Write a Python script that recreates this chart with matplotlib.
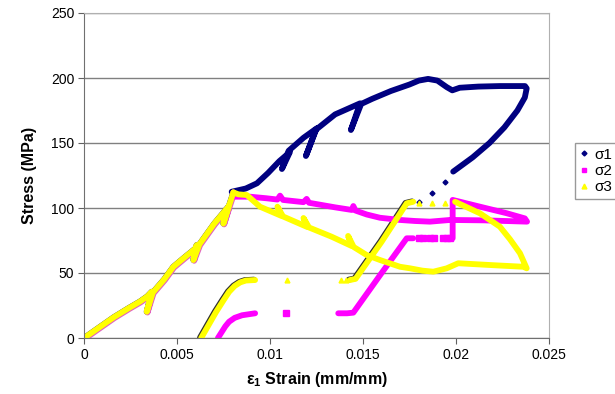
import numpy as np
import matplotlib
matplotlib.use('Agg')
import matplotlib.pyplot as plt
import matplotlib.transforms as mtransforms
from matplotlib.lines import Line2D

plt.rcParams['font.family'] = ['Liberation Sans', 'DejaVu Sans']
plt.rcParams['mathtext.fontset'] = 'custom'
plt.rcParams['mathtext.rm'] = 'Liberation Sans:bold'
plt.rcParams['mathtext.bf'] = 'Liberation Sans:bold'

# loading branch, common to all three stresses (with small unload loops)
load_strain = [0, 0.0008, 0.0016, 0.0024, 0.0030, 0.0034, 0.00364, 0.00337, 0.0037, 0.0043, 0.0048,
               0.0054, 0.0060, 0.00606, 0.00588, 0.0062, 0.0070, 0.00776, 0.00749, 0.0078, 0.00803]
load_stress = [0, 8, 16, 23, 28, 32, 35.6, 20.2, 35, 45, 54.8,
               62, 69, 71.5, 60, 72, 88, 101, 88, 102, 112]

# sigma 1 after the loading branch
s1_strain = [0.00794, 0.0087, 0.0093, 0.0099, 0.0105, 0.01107, 0.01064, 0.0110, 0.0118,
             0.01251, 0.01193, 0.01245, 0.0135, 0.01484, 0.01435, 0.0149, 0.0155, 0.0165,
             0.0175, 0.0180, 0.0185, 0.0190, 0.0195, 0.0198, 0.0202, 0.0212, 0.02236, 0.0230,
             0.02371, 0.0238, 0.0237, 0.0233, 0.0226, 0.0218, 0.0209, 0.01985]
s1_stress = [112.5, 115, 119, 127, 136, 143, 130, 144, 154,
             161.3, 140, 160, 172, 180.5, 160, 180, 184, 190,
             195, 198, 199.3, 198, 193, 190.5, 192.5, 193.4, 193.8, 193.8,
             193.8, 192, 185, 175, 162, 150, 139, 128]
s1_pts_strain = [0.01941, 0.01873, 0.01803]
s1_pts_stress = [120.2, 111.8, 104.8]

# sigma 2
s2_strain = [0.00803, 0.00812, 0.00892, 0.0098, 0.0104, 0.01054, 0.0107, 0.0118, 0.01197,
             0.0121, 0.0135, 0.0144, 0.01448, 0.0146, 0.0152, 0.01591, 0.01699, 0.0178, 0.0186, 0.01968,
             0.0215, 0.02382, 0.0237, 0.02272, 0.02129, 0.01982, 0.01982]
s2_stress = [112, 108.7, 108.7, 107.5, 106.5, 109.5, 106.2, 104.5, 107,
             104, 100.5, 98.5, 101.5, 98, 95, 92.5, 90.8, 90, 89.5, 90.8,
             90.5, 89.5, 92, 96, 101, 106.2, 76.7]
s2_low_strain = [0.0072, 0.0074, 0.0076, 0.0078, 0.0081, 0.0085, 0.0092]
s2_low_stress = [0, 4.5, 9, 12.5, 15.5, 17.5, 19]
s2_mid_strain = [0.01367, 0.01414, 0.01448, 0.0159, 0.01735, 0.0177]
s2_mid_stress = [19, 19, 19.5, 48, 76.7, 76.7]
s2_pts_strain = [0.01086, 0.0180, 0.0182, 0.0186, 0.0188, 0.0193, 0.0195, 0.0197]
s2_pts_stress = [19, 76.7, 76.7, 76.7, 76.7, 76.7, 76.7, 76.7]

# sigma 3
s3_strain = [0.00803, 0.0083, 0.00875, 0.00946, 0.0106, 0.0104, 0.0107, 0.0120, 0.0118,
             0.0121, 0.0133, 0.0144, 0.0142, 0.0145, 0.0152, 0.01591, 0.01699, 0.01753, 0.0182, 0.01878,
             0.0195, 0.02012, 0.0220, 0.02362, 0.0238, 0.02344, 0.0229, 0.02236, 0.02129, 0.01995]
s3_stress = [112, 110.5, 110, 101, 94, 101, 93.5, 85.4, 92.3,
             85, 78, 70.7, 78.5, 70, 63.8, 60, 54.8, 53.6, 51.8, 51,
             53.6, 57.5, 56, 54.8, 53.6, 65.2, 76, 85.6, 95.9, 104.8]
s3_low_strain = [0.0063, 0.0067, 0.0071, 0.0075, 0.0078, 0.0081, 0.0084, 0.0087, 0.0092]
s3_low_stress = [0, 10, 20, 29, 35.5, 40, 42.8, 44.2, 44.6]
s3_mid_strain = [0.0143, 0.0146, 0.0160, 0.01735, 0.0177]
s3_mid_stress = [44.6, 45.5, 74, 103.6, 104.8]
s3_pts_strain = [0.0109, 0.0138, 0.0141, 0.0180, 0.01871, 0.0194]
s3_pts_stress = [44.6, 44.6, 44.6, 104, 104, 104]

c1 = '#000080'
c2 = '#FF00FF'
c3 = '#FFFF00'

fig = plt.figure(figsize=(6.15, 3.94), dpi=100)
ax = fig.add_axes([84/615, 56/394, 465/615, 325/394])

lw = 4.2
kw = dict(solid_capstyle='round', solid_joinstyle='round')

# sigma 1 (drawn first, under the others)
ax.plot(load_strain, load_stress, color=c1, lw=lw, **kw)
ax.plot(s1_strain, s1_stress, color=c1, lw=lw, **kw)
ax.plot(s1_pts_strain, s1_pts_stress, 'D', color=c1, ms=2.5, ls='none')
# sigma 1 unload/reload runs just left of sigma 3
shift = mtransforms.offset_copy(ax.transData, fig=fig, x=-1.2, y=0.4, units='dots')
ax.plot(s3_low_strain, s3_low_stress, color='#303030', lw=lw, transform=shift, **kw)
ax.plot(s3_mid_strain, s3_mid_stress, color='#303030', lw=lw, transform=shift, **kw)

# sigma 2
shift2 = mtransforms.offset_copy(ax.transData, fig=fig, x=0.8, y=-0.8, units='dots')
ax.plot(load_strain, load_stress, color='#E060C0', lw=lw, transform=shift2, **kw)
ax.plot(s2_strain, s2_stress, color=c2, lw=lw, **kw)
ax.plot(s2_low_strain, s2_low_stress, color=c2, lw=lw, **kw)
ax.plot(s2_mid_strain, s2_mid_stress, color=c2, lw=lw, **kw)
ax.plot(s2_pts_strain, s2_pts_stress, 's', color=c2, ms=4, ls='none')

# sigma 3
ax.plot(load_strain, load_stress, color=c3, lw=lw, **kw)
ax.plot(s3_strain, s3_stress, color=c3, lw=lw, **kw)
ax.plot(s3_low_strain, s3_low_stress, color=c3, lw=lw, **kw)
ax.plot(s3_mid_strain, s3_mid_stress, color=c3, lw=lw, **kw)
ax.plot(s3_pts_strain, s3_pts_stress, '^', color=c3, ms=3.5, ls='none')

ax.set_xlim(0, 0.025)
ax.set_ylim(0, 250)
ax.set_xticks([0, 0.005, 0.01, 0.015, 0.02, 0.025])
ax.set_xticklabels(['0', '0.005', '0.01', '0.015', '0.02', '0.025'])
ax.set_yticks([0, 50, 100, 150, 200, 250])
ax.yaxis.grid(True, color='#808080', lw=1)
ax.set_axisbelow(True)
ax.tick_params(labelsize=10, direction='out', length=4, color='#606060', pad=3)
for s in ['left', 'bottom']:
    ax.spines[s].set_color('#707070')
for s in ['top', 'right']:
    ax.spines[s].set_color('#B0B0B0')

ax.set_xlabel(r'ε$_\mathbf{1}$ Strain (mm/mm)', fontsize=11.5, fontweight='bold', labelpad=6)
ax.set_ylabel('Stress (MPa)', fontsize=11.5, fontweight='bold', labelpad=10)

handles = [Line2D([], [], marker='D', color=c1, ls='none', ms=2.5),
           Line2D([], [], marker='s', color=c2, ls='none', ms=3.5),
           Line2D([], [], marker='^', color=c3, ls='none', ms=3.5)]
leg = fig.legend(handles, ['σ1', 'σ2', 'σ3'], loc='upper left',
                 bbox_to_anchor=(575/615, 1 - 143/394), fontsize=11,
                 frameon=True, fancybox=False, edgecolor='#808080',
                 handlelength=0.6, handletextpad=0.4, borderpad=0.3,
                 labelspacing=0.15, borderaxespad=0)
leg.get_frame().set_linewidth(1)

fig.savefig('out.png', dpi=100)
